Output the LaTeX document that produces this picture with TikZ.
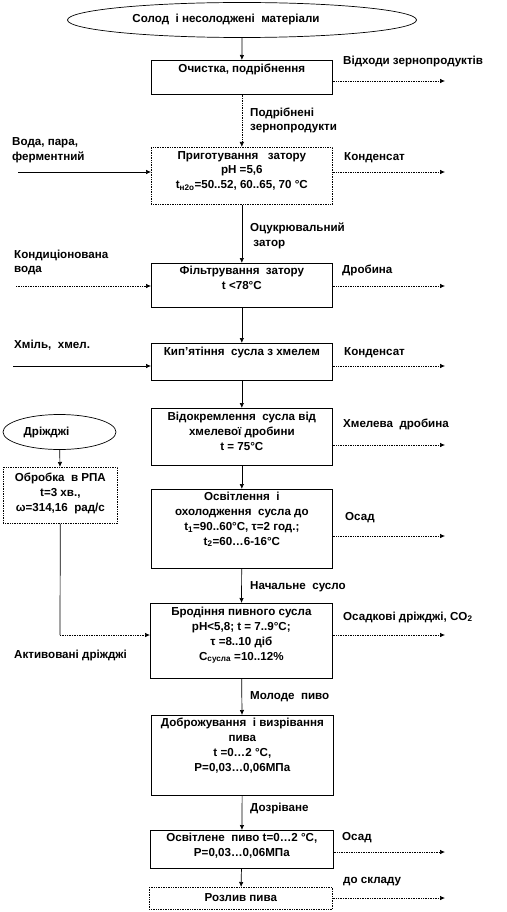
\documentclass[tikz,border=0pt]{standalone}
\usepackage{fontspec}
\setmainfont{Liberation Sans}
\usetikzlibrary{shapes.geometric,arrows.meta,positioning}

\begin{document}
\begin{tikzpicture}[
    x=1pt, y=-1pt,
    font=\bfseries\fontsize{11.6}{14.8}\selectfont,
    box/.style={rectangle, draw, line width=0.7pt, anchor=north west, minimum width=181pt, inner sep=0pt},
    dotbox/.style={box, densely dotted},
    boxtext/.style={align=center, inner sep=0pt},
    source/.style={ellipse, draw, line width=0.7pt, inner sep=0pt},
    note/.style={anchor=west, align=left, inner sep=0pt},
    flow/.style={-{Latex[length=5pt,width=4.5pt]}, line width=0.7pt},
    dotflow/.style={flow, densely dotted}
]
\useasboundingbox (0,0) rectangle (506,912);

% Raw materials and yeast (text sits left of centre, as drawn)
\node[source, minimum width=349pt, minimum height=35pt] (malt) at (242,20) {Солод~ і несолоджені~ матеріали\hspace*{32pt}};
\node[source, minimum width=113pt, minimum height=35pt] (yeast) at (59.5,432) {Дріжджі\hspace*{26pt}};

% Main process column
\node[box, minimum height=34pt] (cleaning) at (151,60) {};
\node[boxtext, below=4pt of cleaning.north] (cleaning_txt) {Очистка, подрібнення};

\node[dotbox, minimum height=57pt] (mashing) at (151,147) {};
\node[boxtext, below=4pt of mashing.north] (mashing_txt) {Приготування~~ затору\\pH =5,6\\t\textsubscript{н2о}=50..52, 60..65, 70 °С};

\node[box, minimum height=44pt] (filtering) at (151,263) {};
\node[boxtext, below=3pt of filtering.north] (filtering_txt) {Фільтрування~ затору\\t <78°С};

\node[box, minimum height=37pt] (boiling) at (151,343) {};
\node[boxtext, below=4pt of boiling.north] (boiling_txt) {Кип'ятіння~ сусла з хмелем};

\node[box, minimum height=57pt] (separation) at (151,408) {};
\node[boxtext, below=4pt of separation.north] (separation_txt) {Відокремлення~ сусла від\\хмелевої дробини\\t = 75°С};

\node[box, minimum height=79pt] (cooling) at (151,489) {};
\node[boxtext, below=3pt of cooling.north] (cooling_txt) {Освітлення~ і\\охолодження~ сусла до\\t\textsubscript{1}=90..60°С, τ=2 год.;\\t\textsubscript{2}=60…6-16°С};

\node[box, minimum width=182pt, minimum height=75pt] (fermentation) at (150,603) {};
\node[boxtext, below=4pt of fermentation.north] (fermentation_txt) {Бродіння пивного сусла\\pH<5,8; t = 7..9°С;\\τ =8..10 діб\\С\textsubscript{сусла} =10..12\%};

\node[box, minimum width=182pt, minimum height=80pt] (maturation) at (151,715) {};
\node[boxtext, below=3pt of maturation.north] (maturation_txt) {Доброжування~ і визрівання\\пива\\t =0…2 °С,\\Р=0,03…0,06МПа};

\node[box, minimum width=183pt, minimum height=38pt] (clarified) at (150,830) {};
\node[boxtext, below=3pt of clarified.north] (clarified_txt) {Освітлене~ пиво t=0…2 °С,\\Р=0,03…0,06МПа};

\node[dotbox, minimum width=183pt, minimum height=22pt] (bottling) at (149,887) {};
\node[boxtext, below=6pt of bottling.north] (bottling_txt) {Розлив пива};

% Yeast treatment
\node[dotbox, minimum width=114pt, minimum height=56pt] (yeast_treat) at (3,467) {};
\node[boxtext, below=6pt of yeast_treat.north] (yeast_treat_txt) {Обробка~ в РПА\\t=3 хв.,\\ω=314,16~ рад/с};

% Labels on the main flow
\node[note] (ground_lbl) at (250,120.5) {Подрібнені\\зернопродукти};
\node[note] (sacch_lbl) at (250,236) {Оцукрювальний\\~затор};
\node[note] (wort_lbl) at (250,587) {Начальне~ сусло};
\node[note] (young_lbl) at (250,697) {Молоде~ пиво};
\node[note] (matured_lbl) at (250,808) {Дозріване};

% Inputs on the left
\node[note] (water_lbl) at (12,150) {Вода, пара,\\ферментний};
\node[note] (condwater_lbl) at (14,262.5) {Кондиціонована\\вода};
\node[note] (hops_lbl) at (14,345) {Хміль,~ хмел.};
\node[note] (active_lbl) at (14,655) {Активовані дріжджі};

% Outputs on the right
\node[note] (waste_lbl) at (343,62) {Відходи зернопродуктів};
\node[note] (cond1_lbl) at (344,158) {Конденсат};
\node[note] (spent_lbl) at (342,270) {Дробина};
\node[note] (cond2_lbl) at (344,353) {Конденсат};
\node[note] (hopspent_lbl) at (343,424) {Хмелева~ дробина};
\node[note] (sludge1_lbl) at (345,518) {Осад};
\node[note] (co2_lbl) at (343,617) {Осадкові дріжджі, CO\textsubscript{2}};
\node[note] (sludge2_lbl) at (342,838) {Осад};
\node[note] (store_lbl) at (343,882) {до складу};

% Free ends of the side arrows
\coordinate (waste_end) at (445,81);
\coordinate (cond1_end) at (445,172);
\coordinate (spent_end) at (445,286);
\coordinate (cond2_end) at (445,366);
\coordinate (hopspent_end) at (445,445);
\coordinate (sludge1_end) at (445,536);
\coordinate (co2_end) at (445,635);
\coordinate (sludge2_end) at (445,852);
\coordinate (store_end) at (445,898);
\coordinate (water_start) at (18,172);
\coordinate (condwater_start) at (16,286);
\coordinate (hops_start) at (13,366);
\coordinate (yeast_bend) at (60,635);

% Main vertical flow
\draw[flow] (malt) -- (cleaning);
\draw[dotflow] (cleaning) -- (mashing);
\draw[flow] (mashing) -- (filtering);
\draw[flow] (filtering) -- (boiling);
\draw[flow] (boiling) -- (separation);
\draw[flow] (separation) -- (cooling);
\draw[flow] (cooling) -- (fermentation);
\draw[flow] (fermentation) -- (maturation);
\draw[flow] (maturation) -- (clarified);
\draw[flow] (clarified) -- (bottling);

% Inputs
\draw[flow] (water_start) -- (mashing.west |- water_start);
\draw[dotflow] (condwater_start) -- (filtering.west |- condwater_start);
\draw[flow] (hops_start) -- (boiling.west |- hops_start);
\draw[flow] (yeast) -- (yeast_treat);
\draw[line width=0.7pt] (yeast_treat) -- (yeast_bend);
\draw[dotflow] (yeast_bend) -- (fermentation.west |- yeast_bend);

% Outputs
\draw[dotflow] (cleaning.east |- waste_end) -- (waste_end);
\draw[dotflow] (mashing.east |- cond1_end) -- (cond1_end);
\draw[dotflow] (filtering.east |- spent_end) -- (spent_end);
\draw[dotflow] (boiling.east |- cond2_end) -- (cond2_end);
\draw[dotflow] (separation.east |- hopspent_end) -- (hopspent_end);
\draw[dotflow] (cooling.east |- sludge1_end) -- (sludge1_end);
\draw[dotflow] (fermentation.east |- co2_end) -- (co2_end);
\draw[dotflow] (clarified.east |- sludge2_end) -- (sludge2_end);
\draw[dotflow] (bottling.east |- store_end) -- (store_end);

\end{tikzpicture}
\end{document}
